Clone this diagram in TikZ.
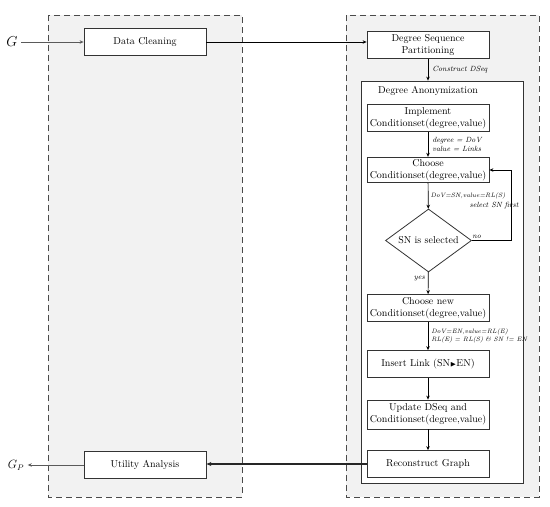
\documentclass[tikz,border=0pt]{standalone}
\usepackage{amsmath,amssymb}
\usepackage{xcolor}
\usepackage{tikz}
\usetikzlibrary{arrows.meta,positioning,shapes.geometric}
\definecolor{pnfill}{HTML}{F2F2F2}
\definecolor{pnline}{HTML}{4A4A4A}
\definecolor{bxline}{HTML}{333333}
\definecolor{arrgrey}{HTML}{5A5A5A}
\tikzset{
  panel/.style = {draw=pnline, fill=pnfill, dash pattern=on 6pt off 4pt, line width=0.8pt},
  box/.style   = {rectangle, draw=bxline, fill=white, line width=0.8pt,
                  minimum width=122pt, minimum height=27pt, inner sep=2pt,
                  font=\fontsize{10}{12}\selectfont, align=center},
  grp/.style   = {rectangle, draw=bxline, fill=white, line width=0.8pt,
                  minimum width=162pt, minimum height=402pt},
  cond/.style  = {diamond, draw=bxline, fill=white, line width=0.8pt,
                  minimum width=86pt, minimum height=63pt, inner sep=0pt,
                  font=\fontsize{10}{12}\selectfont},
  ed/.style    = {-{Stealth[length=4pt,width=3.5pt]}, draw=black, line width=0.7pt},
  edg/.style   = {-{Stealth[length=4pt,width=3.5pt]}, draw=arrgrey, line width=0.8pt},
  edb/.style   = {-{Stealth[length=5pt,width=4pt]}, draw=black!85, line width=1.3pt},
  lbl/.style   = {font=\fontsize{7.5}{9}\selectfont\itshape, inner sep=1pt, align=left},
  lbls/.style  = {lbl, font=\fontsize{6.3}{8.5}\selectfont\itshape},
}

\begin{document}
\begin{tikzpicture}[x=1pt,y=-1pt]
  \useasboundingbox (0,0) rectangle (550,507);
  \draw[panel] (48,15) rectangle (242,497);
  \draw[panel] (346,15) rectangle (539,497);
  \node[grp] (anon) at (442,282) {};
  \node[font=\fontsize{10}{12}\selectfont] (anontitle) at (428,91) {Degree Anonymization};
  \node[font=\fontsize{14}{14}\selectfont] (gin) at (12,42) {$G$};
  \node[font=\fontsize{12}{12}\selectfont] (gout) at (16,465) {$G_P$};
  \node[box] (clean) at (145,42) {Data Cleaning};
  \node[box] (util)  at (145,465) {Utility Analysis};
  \node[box] (dsp)   at (428,45) {Degree Sequence\\Partitioning};
  \node[box] (impl)  at (428,118) {Implement\\Conditionset(degree,value)};
  \node[box, minimum height=24pt] (choose) at (428,170) {Choose\\Conditionset(degree,value)};
  \node[cond] (sel)  at (428.5,240.5) {\makebox[0pt]{SN is selected}};
  \node[box] (cnew)  at (428,308) {Choose new\\Conditionset(degree,value)};
  \node[box] (ins)   at (428,364) {Insert Link (SN{\scriptsize$\blacktriangleright$}EN)};
  \node[box, minimum height=29pt] (upd) at (428,414.5) {Update DSeq and\\Conditionset(degree,value)};
  \node[box] (rec)   at (428,464) {Reconstruct Graph};
  \draw[edg] (gin) -- (clean);
  \draw[ed]  (clean) -- (clean.east -| dsp.west);
  \draw[ed]  (dsp) -- node[lbl,right=3pt]{Construct DSeq} (dsp.south |- anon.north);
  \draw[ed]  (impl) -- node[lbl,right=3pt]{degree = DoV\\value = Links} (choose);
  \draw[ed]  (choose) -- node[lbls,right=1pt]{DoV=SN,value=RL(S)} (sel);
  \draw[ed]  (sel.east) -- node[lbl,above=1pt,pos=0.12]{no} ++(39,0)
             |- node[lbl,pos=0.25,anchor=east,xshift=9pt]{select SN first} (choose.east);
  \draw[ed]  (sel) -- node[lbl,left=2pt,pos=0.3]{yes} (cnew);
  \draw[ed]  (cnew) -- node[lbls,right=2pt]{DoV=EN,value=RL(E)\\RL(E)\,\,= RL(S)\,\,\& SN != EN} (ins);
  \draw[ed]  (ins) -- (upd);
  \draw[ed]  (upd) -- (rec);
  \draw[edb] (rec.west) -- (rec.west -| util.east);
  \draw[edg] (util) -- (gout);
\end{tikzpicture}
\end{document}
